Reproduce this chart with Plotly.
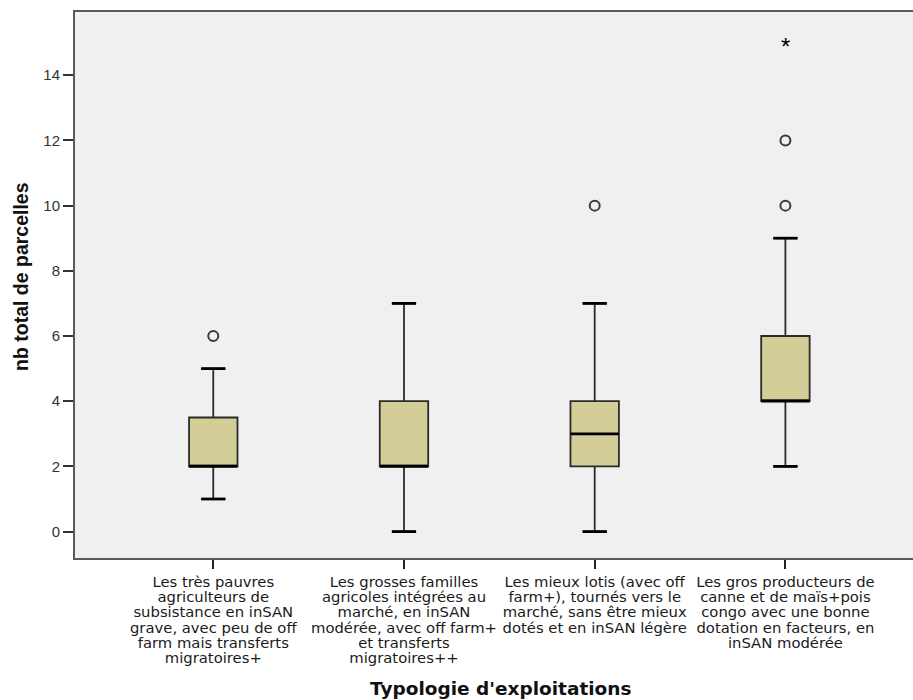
import plotly.graph_objects as go

category_lines = [
    ["Les très pauvres", "agriculteurs de", "subsistance en inSAN", "grave, avec peu de off",
     "farm mais transferts", "migratoires+"],
    ["Les grosses familles", "agricoles intégrées au", "marché, en inSAN", "modérée, avec off farm+",
     "et transferts", "migratoires++"],
    ["Les mieux lotis (avec off", "farm+), tournés vers le", "marché, sans être mieux",
     "dotés et en inSAN légère"],
    ["Les gros producteurs de", "canne et de maïs+pois", "congo avec une bonne",
     "dotation en facteurs, en", "inSAN modérée"],
]
lower = [1, 0, 0, 2]
q1 = [2, 2, 2, 4]
median = [2, 2, 3, 4]
q3 = [3.5, 4, 4, 6]
upper = [5, 7, 7, 9]
outlier_cat = [0, 2, 3, 3]
outlier_val = [6, 10, 10, 12]
extreme_cat = [3]
extreme_val = [15]
y_ticks = [0, 2, 4, 6, 8, 10, 12, 14]
x_title = "Typologie d'exploitations"
y_title = "nb total de parcelles"

xpos = list(range(len(category_lines)))
box_w = 0.254
cap_frac = 0.5

# tick labels: line spacing follows the (smaller) outer font, glyphs use the inner span size
tick_text = ["<br>".join('<span style="font-size:14.8px">' + ln + "</span>" for ln in lines)
             for lines in category_lines]

fig = go.Figure()
fig.add_trace(go.Box(
    x=xpos, q1=q1, median=median, q3=q3, lowerfence=lower, upperfence=upper,
    width=box_w, whiskerwidth=cap_frac,
    fillcolor="#D3CE97", line=dict(color="#2a2a2a", width=1.8),
    boxpoints=False, showlegend=False, hoverinfo="skip",
))
# thicker median lines and whisker caps (derived from the box statistics)
mx, my = [], []
for i, m in zip(xpos, median):
    mx += [i - box_w / 2, i + box_w / 2, None]
    my += [m, m, None]
fig.add_trace(go.Scatter(x=mx, y=my, mode="lines", line=dict(color="black", width=2.8),
                         showlegend=False, hoverinfo="skip"))
cx, cy = [], []
half_cap = box_w * cap_frac / 2
for i, lo, hi in zip(xpos, lower, upper):
    cx += [i - half_cap, i + half_cap, None, i - half_cap, i + half_cap, None]
    cy += [lo, lo, None, hi, hi, None]
fig.add_trace(go.Scatter(x=cx, y=cy, mode="lines", line=dict(color="black", width=2.8),
                         showlegend=False, hoverinfo="skip"))
fig.add_trace(go.Scatter(x=outlier_cat, y=outlier_val, mode="markers",
                         marker=dict(symbol="circle-open", size=10, color="#3a3a3a", line=dict(width=2)),
                         showlegend=False))

annotations = []
for xc, yv in zip(extreme_cat, extreme_val):
    annotations.append(dict(
        x=xc, xref="x", y=yv, yref="y", yanchor="middle", xanchor="center", yshift=-4,
        text="*", showarrow=False,
        font=dict(family="Liberation Sans", size=24, color="black"),
    ))
annotations.append(dict(
    x=0.5, xref="paper", xshift=6, y=0, yref="paper", yshift=-130, yanchor="middle",
    text="<b>" + x_title + "</b>", showarrow=False,
    font=dict(family="DejaVu Sans", size=18.5, color="#111"),
))
annotations.append(dict(
    x=0, xref="paper", xshift=-54, y=0.5, yref="paper", yshift=8, yanchor="middle", xanchor="center",
    text="<b>" + y_title + "</b>", showarrow=False, textangle=-90,
    font=dict(family="Liberation Sans", size=19.5, color="#111"),
))

fig.update_layout(
    width=913, height=700,
    margin=dict(l=75, r=0, t=12, b=142),
    paper_bgcolor="white", plot_bgcolor="#F0F0F0",
    font=dict(family="Liberation Sans, Arial", size=12, color="#222"),
    annotations=annotations,
    xaxis=dict(
        range=[-0.725, 3.669], tickvals=xpos, ticktext=tick_text,
        ticks="outside", ticklen=9, tickcolor="#222", tickwidth=2,
        tickfont=dict(family="DejaVu Sans", size=11.7, color="#1a1a1a"),
        ticklabelstandoff=4,
        showline=True, linecolor="#5a5a5a", linewidth=2, mirror=True,
        showgrid=False, zeroline=False, automargin=False,
    ),
    yaxis=dict(
        range=[-0.81, 15.94], tickvals=y_ticks,
        ticks="outside", ticklen=10, tickcolor="#333", tickwidth=1.6,
        showline=True, linecolor="#5a5a5a", linewidth=2,
        showgrid=False, zeroline=False, automargin=False,
        tickfont=dict(family="Liberation Sans", size=15, color="#333"),
    ),
)
fig.write_html(
    "out.html",
    config={"displayModeBar": False},
    post_script="document.body.style.margin='0';document.body.style.overflow='hidden';",
)
